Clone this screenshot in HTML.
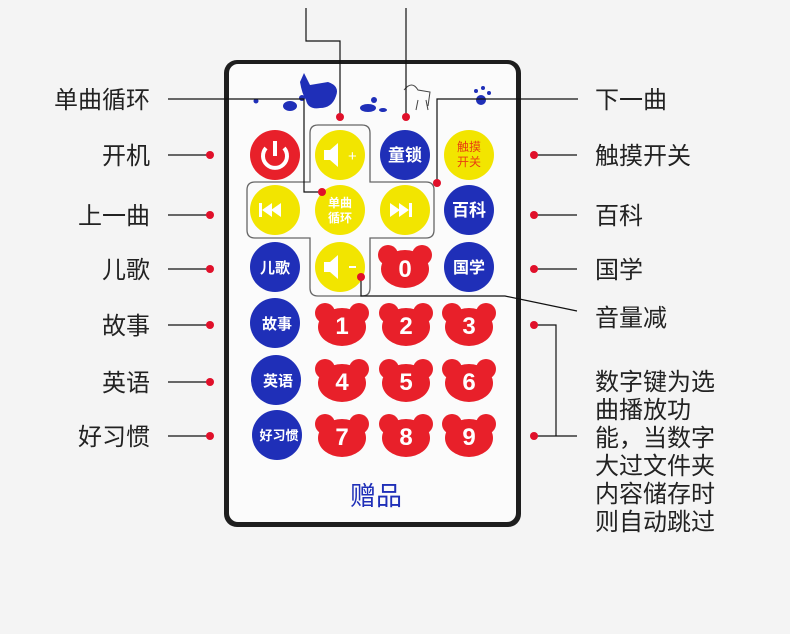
<!DOCTYPE html>
<html><head><meta charset="utf-8"><style>
html,body{margin:0;padding:0;background:#f4f4f4;}
svg{display:block;font-family:"Liberation Sans","Noto Sans CJK SC",sans-serif;}
</style></head><body>
<svg width="790" height="634" viewBox="0 0 790 634" xmlns="http://www.w3.org/2000/svg">
<rect width="790" height="634" fill="#f4f4f4"/>
<defs>
<g id="bear"><circle cx="-17" cy="-12" r="10" fill="#e8202a"/><circle cx="17" cy="-12" r="10" fill="#e8202a"/><ellipse cx="0" cy="2" rx="24" ry="19" fill="#e8202a"/></g>
</defs>
<rect x="224" y="60" width="297" height="467" rx="13" fill="#1e1e1e"/>
<rect x="229" y="64" width="287" height="458" rx="9" fill="#fbfbfb"/>
<g fill="#1f2fb8">
<circle cx="256" cy="101" r="2.5"/><ellipse cx="290" cy="106" rx="7" ry="5"/><circle cx="302" cy="98" r="3"/>
<path d="M300 82 l4 -9 l6 12 l18 -3 q12 4 8 14 q-4 12 -16 12 q-12 2 -14 -8 q-4 -6 -6 -18z"/>
<ellipse cx="368" cy="108" rx="8" ry="4"/><circle cx="374" cy="100" r="3"/><ellipse cx="383" cy="110" rx="4" ry="2"/>
<circle cx="481" cy="100" r="5"/><circle cx="476" cy="91" r="2"/><circle cx="483" cy="88" r="2"/><circle cx="489" cy="93" r="2"/>
</g>
<g fill="none" stroke="#444" stroke-width="1"><path d="M404 90 q8 -10 14 0 l12 2 l-2 14 M418 100 l-2 10 M426 100 l2 10"/></g>
<path d="M318 125 H362 Q370 125 370 133 V182 H426 Q434 182 434 190 V230 Q434 238 426 238 H370 V288 Q370 296 362 296 H318 Q310 296 310 288 V238 H255 Q247 238 247 230 V190 Q247 182 255 182 H310 V133 Q310 125 318 125Z" fill="none" stroke="#666" stroke-width="1.3"/>
<circle cx="275" cy="155" r="25" fill="#e8202a"/>
<path d="M266 148 a12 12 0 1 0 18 0" fill="none" stroke="#fff" stroke-width="4"/><line x1="275" y1="141" x2="275" y2="156" stroke="#fff" stroke-width="4"/>
<circle cx="340" cy="155" r="25" fill="#f2e500"/>
<path d="M324 150 h6 l8 -7 v24 l-8 -7 h-6z" fill="#fff"/><text x="348" y="161" font-size="15" fill="#fff">+</text>
<circle cx="405" cy="155" r="25" fill="#1f2fb8"/><text x="405" y="161" font-size="17" font-weight="bold" fill="#fff" text-anchor="middle">童锁</text>
<circle cx="469" cy="155" r="25" fill="#f2e500"/><text x="469" y="151" font-size="12" fill="#e84010" text-anchor="middle">触摸</text><text x="469" y="166" font-size="12" fill="#e84010" text-anchor="middle">开关</text>
<circle cx="275" cy="210" r="25" fill="#f2e500"/>
<g fill="#fff"><rect x="259" y="203" width="3" height="14"/><path d="M262 210 l10 -7 v14z M271 210 l10 -7 v14z"/></g>
<circle cx="340" cy="210" r="25" fill="#f2e500"/><text x="340" y="207" font-size="12" font-weight="bold" fill="#fff" text-anchor="middle">单曲</text><text x="340" y="222" font-size="12" font-weight="bold" fill="#fff" text-anchor="middle">循环</text>
<circle cx="405" cy="210" r="25" fill="#f2e500"/>
<g fill="#fff"><path d="M390 203 l10 7 l-10 7z M399 203 l10 7 l-10 7z"/><rect x="409" y="203" width="3" height="14"/></g>
<circle cx="469" cy="210" r="25" fill="#1f2fb8"/><text x="469" y="216" font-size="17" font-weight="bold" fill="#fff" text-anchor="middle">百科</text>
<circle cx="275" cy="267" r="25" fill="#1f2fb8"/><text x="275" y="273" font-size="15" font-weight="bold" fill="#fff" text-anchor="middle">儿歌</text>
<circle cx="340" cy="267" r="25" fill="#f2e500"/>
<path d="M324 262 h6 l8 -7 v24 l-8 -7 h-6z" fill="#fff"/><rect x="349" y="266" width="7" height="2" fill="#fff"/>
<use href="#bear" x="405" y="267"/><text x="405" y="277" font-size="24" font-weight="bold" fill="#fff" text-anchor="middle">0</text>
<circle cx="469" cy="267" r="25" fill="#1f2fb8"/><text x="469" y="273" font-size="16" font-weight="bold" fill="#fff" text-anchor="middle">国学</text>
<circle cx="275" cy="323" r="25" fill="#1f2fb8"/><text x="277" y="329" font-size="15" font-weight="bold" fill="#fff" text-anchor="middle">故事</text>
<circle cx="276" cy="380" r="25" fill="#1f2fb8"/><text x="278" y="386" font-size="15" font-weight="bold" fill="#fff" text-anchor="middle">英语</text>
<circle cx="277" cy="435" r="25" fill="#1f2fb8"/><text x="279" y="440" font-size="13" font-weight="bold" fill="#fff" text-anchor="middle">好习惯</text>
<g font-size="24" font-weight="bold" fill="#fff" text-anchor="middle">
<use href="#bear" x="342" y="325"/><text x="342" y="334">1</text>
<use href="#bear" x="406" y="325"/><text x="406" y="334">2</text>
<use href="#bear" x="469" y="325"/><text x="469" y="334">3</text>
<use href="#bear" x="342" y="381"/><text x="342" y="390">4</text>
<use href="#bear" x="406" y="381"/><text x="406" y="390">5</text>
<use href="#bear" x="469" y="381"/><text x="469" y="390">6</text>
<use href="#bear" x="342" y="436"/><text x="342" y="445">7</text>
<use href="#bear" x="406" y="436"/><text x="406" y="445">8</text>
<use href="#bear" x="469" y="436"/><text x="469" y="445">9</text>
</g>
<text x="376" y="505" font-size="26" fill="#1f2fb8" text-anchor="middle">赠品</text>
<g stroke="#111" stroke-width="1.2" fill="none">
<path d="M306 8 V41 H340 V117"/>
<path d="M406 8 V117"/>
<path d="M168 99 H304 V192 H322"/>
<path d="M437 183 V99 H578"/>
<path d="M168 155 H210 M168 215 H210 M168 269 H210 M168 325 H210 M168 382 H210 M168 436 H210"/>
<path d="M534 155 H577 M534 215 H577 M534 269 H577"/>
<path d="M361 277 V296 H505 L577 311"/>
<path d="M534 325 H556 V436 M534 436 H577"/>
</g>
<g fill="#e0102a">
<circle cx="340" cy="117" r="4"/><circle cx="406" cy="117" r="4"/><circle cx="322" cy="192" r="4"/><circle cx="437" cy="183" r="4"/><circle cx="361" cy="277" r="4"/>
<circle cx="210" cy="155" r="4"/><circle cx="210" cy="215" r="4"/><circle cx="210" cy="269" r="4"/><circle cx="210" cy="325" r="4"/><circle cx="210" cy="382" r="4"/><circle cx="210" cy="436" r="4"/>
<circle cx="534" cy="155" r="4"/><circle cx="534" cy="215" r="4"/><circle cx="534" cy="269" r="4"/><circle cx="534" cy="325" r="4"/><circle cx="534" cy="436" r="4"/>
</g>
<g font-size="24" fill="#222">
<text x="150" y="108" text-anchor="end">单曲循环</text>
<text x="150" y="164" text-anchor="end">开机</text>
<text x="150" y="224" text-anchor="end">上一曲</text>
<text x="150" y="278" text-anchor="end">儿歌</text>
<text x="150" y="334" text-anchor="end">故事</text>
<text x="150" y="391" text-anchor="end">英语</text>
<text x="150" y="445" text-anchor="end">好习惯</text>
<text x="595" y="108">下一曲</text>
<text x="595" y="164">触摸开关</text>
<text x="595" y="224">百科</text>
<text x="595" y="278">国学</text>
<text x="595" y="326">音量减</text>
<text x="595" y="390">数字键为选</text>
<text x="595" y="418">曲播放功</text>
<text x="595" y="446">能，当数字</text>
<text x="595" y="474">大过文件夹</text>
<text x="595" y="502">内容储存时</text>
<text x="595" y="530">则自动跳过</text>
</g>
</svg>
</body></html>
